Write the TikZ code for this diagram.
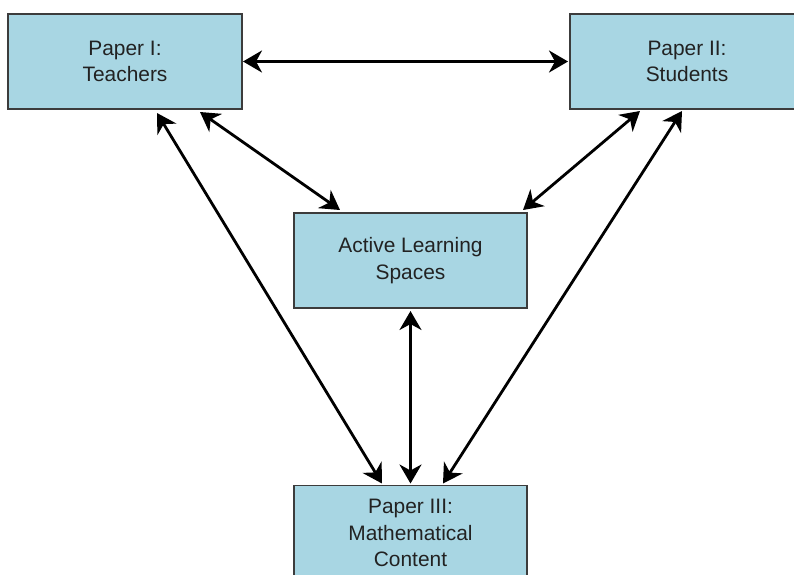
\documentclass[tikz,border=0pt]{standalone}
\usepackage{fontspec}
\setmainfont{Liberation Sans}
\usetikzlibrary{arrows.meta}
\definecolor{boxfill}{HTML}{A8D6E3}
\definecolor{boxline}{HTML}{3C3C3C}
\definecolor{txt}{HTML}{222222}
\tikzset{
  paperbox/.style={draw=boxline, line width=1.6pt, fill=boxfill, rectangle,
    minimum width=234pt, minimum height=95pt, inner sep=0pt, outer sep=0pt, align=center,
    text=txt, font=\fontsize{20.9pt}{26.5pt}\selectfont},
  link/.style={line width=2.8pt, {Stealth[length=19pt,width=22pt,inset=6pt]}-{Stealth[length=19pt,width=22pt,inset=6pt]}}
}
\begin{document}
\begin{tikzpicture}[x=1pt,y=-1pt]
\clip (0,0) rectangle (794,574);
\useasboundingbox (0,0) rectangle (794,574);
\node[paperbox] (t) at (125,61.5) {Paper I:\\Teachers};
\node[paperbox] (s) at (687,61.5) {Paper II:\\Students};
\node[paperbox, minimum width=233pt] (a) at (410.5,260.5) {Active Learning\\Spaces};
\node[paperbox, minimum width=233pt] (p) at (410.5,533) {Paper III:\\Mathematical\\Content};
% anchor points for connectors
\coordinate (tA) at ([xshift=192pt,yshift=-3pt]t.south west);
\coordinate (tP) at ([xshift=149pt,yshift=-4pt]t.south west);
\coordinate (sA) at ([xshift=70pt,yshift=-2pt]s.south west);
\coordinate (sP) at ([xshift=112pt,yshift=-2pt]s.south west);
\coordinate (aT) at ([xshift=46pt,yshift=3pt]a.north west);
\coordinate (aS) at ([xshift=-4pt,yshift=3pt]a.north east);
\coordinate (aP) at ([yshift=-3pt]a.south);
\coordinate (pT) at ([xshift=88pt,yshift=2pt]p.north west);
\coordinate (pA) at ([yshift=2pt]p.north);
\coordinate (pS) at ([xshift=149pt,yshift=2pt]p.north west);
\coordinate (tS) at ([xshift=1pt]t.east);
\coordinate (sT) at ([xshift=-2pt]s.west);
\draw[link] (tS) -- (sT);
\draw[link] (tA) -- (aT);
\draw[link] (tP) -- (pT);
\draw[link] (sA) -- (aS);
\draw[link] (sP) -- (pS);
\draw[link] (aP) -- (pA);
\end{tikzpicture}
\end{document}
